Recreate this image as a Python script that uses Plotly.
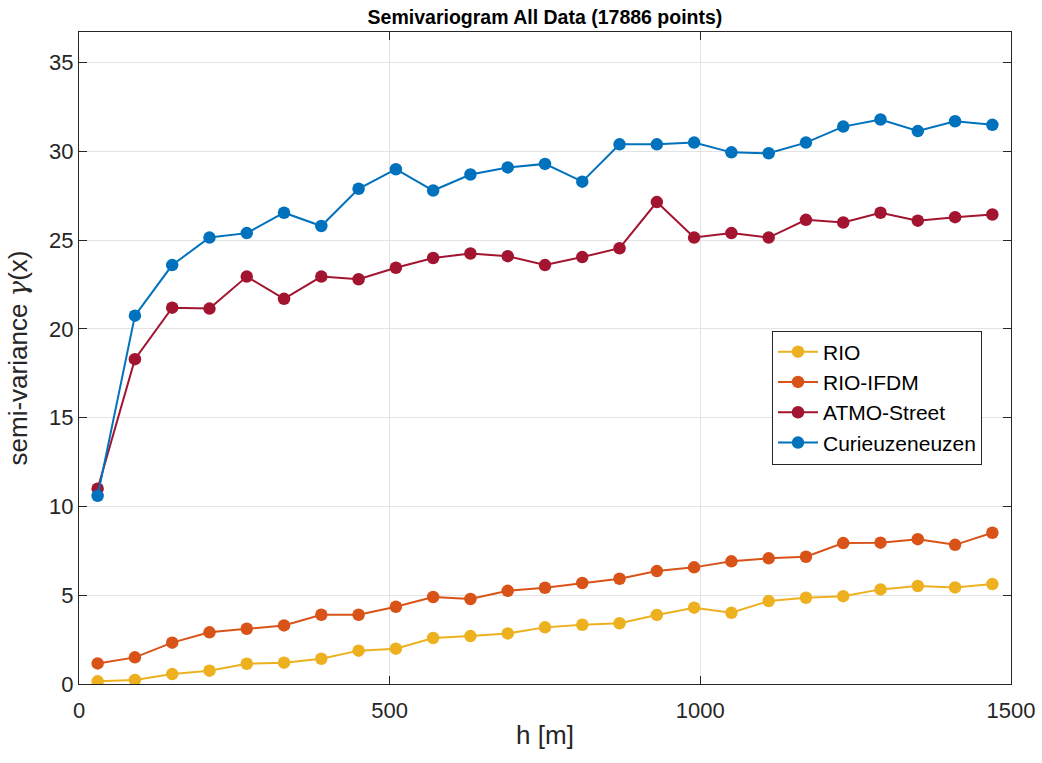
import plotly.graph_objects as go

h = [30, 90, 150, 210, 270, 330, 390, 450, 510, 570, 630, 690, 750, 810, 870,
     930, 990, 1050, 1110, 1170, 1230, 1290, 1350, 1410, 1470]

rio = [0.15, 0.23, 0.56, 0.75, 1.14, 1.20, 1.42, 1.88, 1.99, 2.59, 2.70, 2.85, 3.19,
       3.34, 3.42, 3.89, 4.30, 4.01, 4.67, 4.86, 4.95, 5.33, 5.52, 5.44, 5.63]
rio_ifdm = [1.16, 1.50, 2.33, 2.91, 3.11, 3.30, 3.90, 3.90, 4.35, 4.90, 4.79, 5.25, 5.42,
            5.69, 5.93, 6.36, 6.57, 6.91, 7.08, 7.17, 7.94, 7.96, 8.16, 7.84, 8.52]
atmo = [11.0, 18.3, 21.2, 21.15, 22.95, 21.7, 22.95, 22.8, 23.45, 24.0, 24.25, 24.1, 23.6,
        24.05, 24.55, 27.15, 25.15, 25.4, 25.15, 26.15, 26.0, 26.55, 26.1, 26.3, 26.45]
curieuze = [10.6, 20.75, 23.6, 25.15, 25.4, 26.55, 25.8, 27.9, 29.0, 27.8, 28.7, 29.1, 29.3,
            28.3, 30.4, 30.4, 30.5, 29.95, 29.9, 30.5, 31.4, 31.8, 31.15, 31.7, 31.5]

series = [
    ("RIO", rio, "#EDB120"),
    ("RIO-IFDM", rio_ifdm, "#D95319"),
    ("ATMO-Street", atmo, "#A2142F"),
    ("Curieuzeneuzen", curieuze, "#0072BD"),
]

x_ticks = [0, 500, 1000, 1500]
y_ticks = [0, 5, 10, 15, 20, 25, 30, 35]

fig = go.Figure()
for name, vals, col in series:
    fig.add_trace(go.Scatter(
        x=h, y=vals, name=name, mode="lines+markers",
        line=dict(color=col, width=2),
        marker=dict(color=col, size=12.5),
    ))

font_family = "Liberation Sans, Arial, Helvetica, sans-serif"
axis_common = dict(
    showline=True, linecolor="#262626", linewidth=1, mirror="ticks",
    ticks="inside", ticklen=8, tickcolor="#262626", tickwidth=1,
    showgrid=True, gridcolor="#e3e3e3", gridwidth=1,
    zeroline=False, automargin=False,
    tickfont=dict(family=font_family, size=22, color="#262626"),
)

fig.update_layout(
    width=1042, height=763,
    paper_bgcolor="white", plot_bgcolor="white",
    margin=dict(l=79, r=31, t=32, b=79),
    title=dict(text="<b>Semivariogram All Data (17886 points)</b>",
               x=0.523, xanchor="center", y=1 - 17 / 763, yanchor="middle",
               font=dict(family=font_family, size=19.5, color="black")),
    xaxis=dict(range=[0, 1500], tickvals=x_ticks, ticklabelstandoff=7,
               title=dict(text="h [m]", font=dict(family=font_family, size=26, color="#262626"),
                          standoff=3),
               **axis_common),
    yaxis=dict(range=[0, 36.73], tickvals=y_ticks,
               title=dict(text="semi-variance <span style=\"font-family:DejaVu Serif\"><i>γ</i></span>(x)",
                          font=dict(family=font_family, size=26, color="#262626"),
                          standoff=14),
               **axis_common),
    legend=dict(x=(772 - 79) / 932, y=(684 - 397.5) / 652, xanchor="left", yanchor="middle",
                bgcolor="white", bordercolor="#262626", borderwidth=1,
                font=dict(family=font_family, size=21, color="black"),
                itemwidth=40, tracegroupgap=0),
    showlegend=True,
)

fig.write_html("out.html", config={"displayModeBar": False},
               post_script="document.body.style.margin='0';")
